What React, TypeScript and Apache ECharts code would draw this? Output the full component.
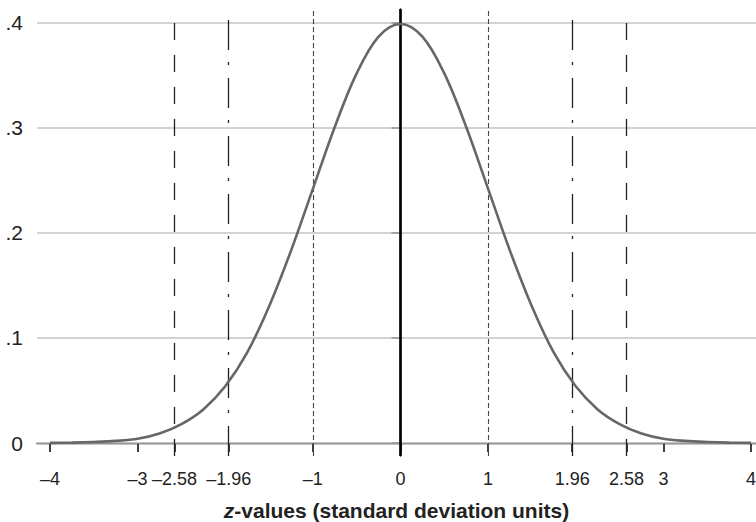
import React, { useEffect, useRef } from "react";
import * as echarts from "echarts";

// Curve values (z, density)
const zValues = [
  -4, -3.75, -3.5, -3.25, -3, -2.75, -2.5, -2.25, -2, -1.75, -1.5, -1.25, -1, -0.75, -0.5, -0.25,
  0, 0.25, 0.5, 0.75, 1, 1.25, 1.5, 1.75, 2, 2.25, 2.5, 2.75, 3, 3.25, 3.5, 3.75, 4,
];
const densityValues = [
  0.0001, 0.0004, 0.001, 0.002, 0.004, 0.009, 0.018, 0.032, 0.054, 0.086, 0.13, 0.183, 0.242,
  0.301, 0.352, 0.387, 0.399, 0.387, 0.352, 0.301, 0.242, 0.183, 0.13, 0.086, 0.054, 0.032,
  0.018, 0.009, 0.004, 0.002, 0.001, 0.0004, 0.0001,
];

const xTickValues = [-4, -3, -2.58, -1.96, -1, 0, 1, 1.96, 2.58, 3, 4];
const yTickValues = [0, 0.1, 0.2, 0.3, 0.4];

const meanLine = [0];
const oneSdLines = [-1, 1];
const z196Lines = [-1.96, 1.96];
const z258Lines = [-2.58, 2.58];

const FONT = "Liberation Sans, Arial, Helvetica, sans-serif";

export default function App() {
  const ref = useRef<HTMLDivElement>(null);

  useEffect(() => {
    if (!ref.current) return;
    const chart = echarts.init(ref.current, undefined, { renderer: "svg" });

    const vLine = (values: number[], color: string, width: number, type: any, z: number) => ({
      type: "line",
      data: [],
      z,
      markLine: {
        silent: true,
        symbol: "none",
        animation: false,
        label: { show: false },
        lineStyle: { color, width, type },
        data: values.map((v) => ({ xAxis: v })),
      },
    });

    chart.setOption({
      animation: false,
      backgroundColor: "#ffffff",
      grid: {
        left: 37,
        right: 0,
        top: 9,
        bottom: 66,
        containLabel: false,
        outerBoundsMode: "none",
      },
      xAxis: {
        type: "value",
        min: -4.148,
        max: 4.057,
        axisLine: { show: true, lineStyle: { color: "#111", width: 1.4 } },
        axisTick: {
          show: true,
          length: 9,
          customValues: xTickValues,
          lineStyle: { color: "#111", width: 1.6 },
        },
        axisLabel: {
          customValues: xTickValues,
          margin: 14,
          fontSize: 18,
          fontFamily: FONT,
          color: "#222",
          formatter: (v: number) => String(v).replace("-", "\u2013"),
        },
        splitLine: { show: false },
        name: "{i|z}{b|-values (standard deviation units)}",
        nameLocation: "middle",
        nameGap: 44,
        nameTextStyle: {
          rich: {
            i: { fontSize: 21, fontWeight: "bold", fontStyle: "italic", fontFamily: FONT, color: "#222" },
            b: { fontSize: 21, fontWeight: "bold", fontFamily: FONT, color: "#222" },
          },
        },
      },
      yAxis: {
        type: "value",
        min: -0.01238,
        max: 0.41333,
        axisLine: { show: true, lineStyle: { color: "#111", width: 1.4 } },
        axisTick: {
          show: true,
          length: 9,
          customValues: yTickValues,
          lineStyle: { color: "#111", width: 1.6 },
        },
        axisLabel: {
          customValues: yTickValues,
          margin: 14,
          fontSize: 21,
          fontFamily: FONT,
          color: "#222",
          formatter: (v: number) => (v === 0 ? "0" : String(Math.round(v * 10) / 10).replace(/^0/, "")),
        },
        splitLine: { show: false },
      },
      series: [
        {
          type: "line",
          data: [],
          z: 1,
          markLine: {
            silent: true,
            symbol: "none",
            animation: false,
            label: { show: false },
            lineStyle: { color: "#c4c4c4", width: 1.6, type: "solid" },
            data: yTickValues.map((v) => ({ yAxis: v })),
          },
        },
        vLine(z258Lines, "#222", 1.3, [17, 15], 3),
        vLine(z196Lines, "#222", 1.3, [30, 13, 3, 12], 3),
        vLine(oneSdLines, "#444", 1.1, [5, 3], 3),
        vLine(meanLine, "#000", 2.6, "solid", 3),
        {
          type: "line",
          data: zValues.map((z, i) => [z, densityValues[i]]),
          smooth: 0.35,
          showSymbol: false,
          symbol: "none",
          z: 5,
          lineStyle: { color: "#676767", width: 2.6 },
        },
      ],
    });

    return () => chart.dispose();
  }, []);

  return (
    <div
      ref={ref}
      style={{ position: "fixed", left: 0, top: 0, width: 756, height: 522, background: "#fff" }}
    />
  );
}
